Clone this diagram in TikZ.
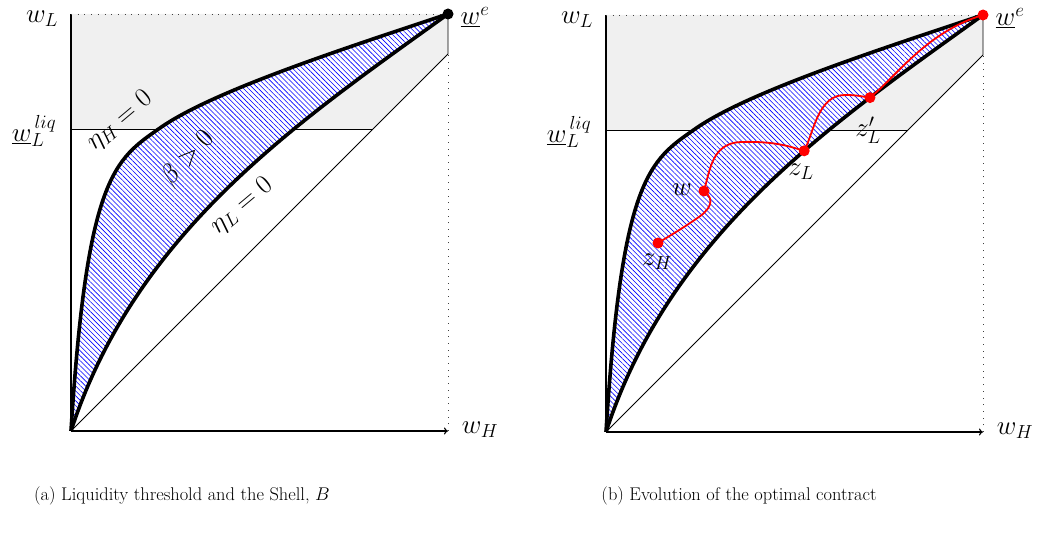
\RequirePackage{fix-cm}
\documentclass[tikz,border=0pt]{standalone}
\usepackage{fontspec}
\usetikzlibrary{patterns.meta,arrows.meta}

\newcommand{\ShellBase}{%
  \coordinate (O) at (0,0);
  \coordinate (E) at (377,417);
  \coordinate (D) at (377,377);
  \coordinate (Q) at (302,302);
  \coordinate (L) at (0,302);
  \coordinate (T) at (0,417);
  \coordinate (X) at (377,0);
  \coordinate (M) at (89,303);
  \fill[gray!12] (T) -- (E) -- (D) -- (Q) -- (L) -- cycle;
  \draw[axisln] (O) -- (T);
  \draw[axisln,-{To[length=4pt,width=7pt]}] (O) -- (X);
  \draw[thinln] (O) -- (D) -- (E);
  \draw[thinln] (L) -- (Q);
  \draw[dotln] (T) -- (E);
  \draw[dotln] (X) -- (D);
  \path[hatch] (O) .. controls (16,256) and (44,271.5) .. (M)
                   .. controls (139,338) and (257,377.4) .. (E)
                   .. controls (227,309) and (65,200) .. (O) -- cycle;
  \draw[shellln] (O) .. controls (16,256) and (44,271.5) .. (M)
                     .. controls (139,338) and (257,377.4) .. (E);
  \draw[shellln] (O) .. controls (65,200) and (227,309) .. (E);
  \path (O) .. controls (65,200) and (227,309) .. (E)
        coordinate[pos=0.6] (zLp) coordinate[pos=0.75] (zLpp);
  \node[lab] (wl) at (-29,412) {$w_L$};
  \node[lab] (wliq) at (-37,300) {$\underline{w}_L^{\,liq}$};
  \node[lab] (we) at (404,414) {$\underline{w}^e$};
  \node[lab] (wh) at (409,1) {$w_H$};
}

\begin{document}
\begin{tikzpicture}[x=1pt,y=1pt,
  thinln/.style={line width=0.9pt},
  axisln/.style={line width=1.1pt},
  shellln/.style={line width=3.6pt, line join=round},
  dotln/.style={line width=0.9pt, black!75, dash pattern=on 0.9pt off 5.8pt},
  hatch/.style={preaction={fill=white}, pattern={Lines[angle=-45,distance=3.5pt,line width=0.6pt]}, pattern color=blue},
  redln/.style={red, line width=1.8pt},
  rdot/.style={circle, fill=red, inner sep=0pt, minimum size=11pt},
  bdot/.style={circle, fill=black, inner sep=0pt, minimum size=11pt},
  lab/.style={font=\fontsize{27}{32}\selectfont, inner sep=0pt},
  captext/.style={font=\fontsize{18.4}{22}\selectfont, inner sep=0pt},
]
\useasboundingbox (0,0) rectangle (1041,533);

% ---------- panel (a) ----------
\begin{scope}[shift={(71,102)}, name prefix=a-]
  \ShellBase
  \node[bdot] (edot) at (E) {};
  \node[lab, rotate=40] (etaH) at (49,310) {$\eta_H = 0$};
  \node[lab, rotate=47] (beta) at (117,273) {$\beta > 0$};
  \node[lab, rotate=40] (etaL) at (171,225) {$\eta_L = 0$};
\end{scope}

% ---------- panel (b) ----------
\begin{scope}[shift={(606,101)}, name prefix=b-]
  \ShellBase
  \coordinate (zHp) at (52,189);
  \coordinate (wp) at (98,241);
  \draw[redln] (zHp) .. controls (70,200) and (80,206) .. (90,213)
                     .. controls (104,222) and (110,232) .. (wp)
                     .. controls (104,262) and (106,289) .. (135,290)
                     .. controls (170,291) and (185,285) .. (zLp)
                     .. controls (208,300) and (212,338) .. (240,337)
                     .. controls (252,337) and (258,335) .. (zLpp)
                     .. controls (290,355) and (320,400) .. (E);
  \node[rdot] (zH) at (zHp) {};
  \node[rdot] (w) at (wp) {};
  \node[rdot] (zL) at (zLp) {};
  \node[rdot] (zLq) at (zLpp) {};
  \node[rdot] (edot) at (E) {};
  \node[lab] (zHl) at (51,170) {$z_H$};
  \node[lab] (wlab) at (76,242) {$w$};
  \node[lab] (zLl) at (195,260) {$z_L$};
  \node[lab] (zLql) at (262,302) {$z_L'$};
\end{scope}

\node[captext] (capa) at (182,37) {(a) Liquidity threshold and the Shell, $B$};
\node[captext] (capb) at (739,37) {(b) Evolution of the optimal contract};
\end{tikzpicture}
\end{document}
